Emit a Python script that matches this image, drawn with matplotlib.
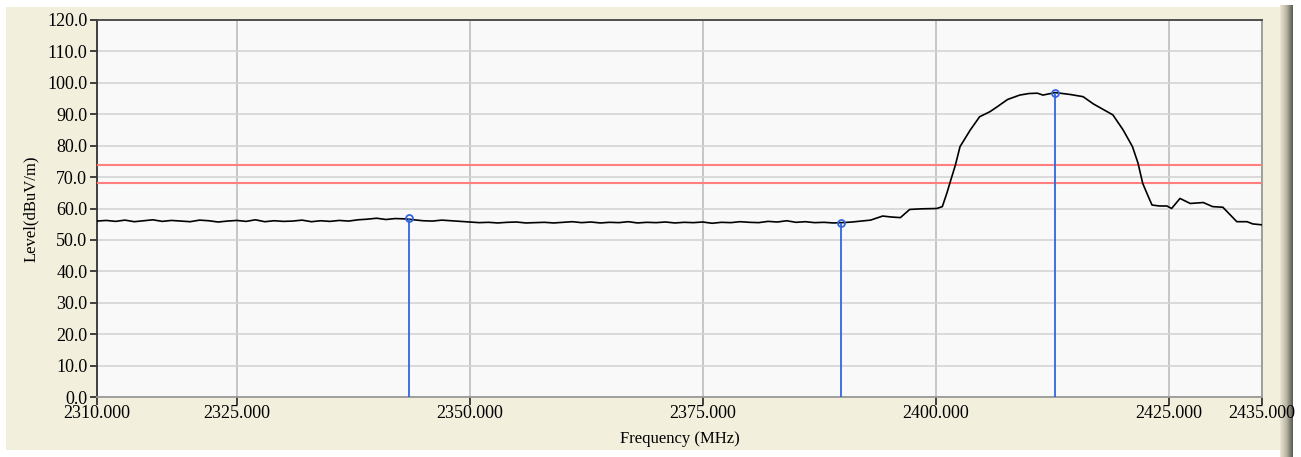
import numpy as np
import matplotlib.pyplot as plt
from matplotlib.patches import Rectangle
from matplotlib.colors import LinearSegmentedColormap

# noise floor, 1 MHz steps from 2310 to 2392
floor_freq = list(range(2310, 2393))
floor_level = [
    56.0, 56.2, 55.9, 56.3, 55.8, 56.1, 56.4, 55.9, 56.2, 56.0,
    55.8, 56.3, 56.1, 55.7, 56.0, 56.2, 55.9, 56.4, 55.8, 56.1,
    55.9, 56.0, 56.3, 55.8, 56.1, 55.9, 56.2, 56.0, 56.4, 56.6,
    56.9, 56.5, 56.8, 56.7, 56.4, 56.1, 56.0, 56.3, 56.1, 55.9,
    55.7, 55.5, 55.6, 55.4, 55.6, 55.7, 55.4, 55.5, 55.6, 55.4,
    55.6, 55.8, 55.5, 55.7, 55.4, 55.6, 55.5, 55.8, 55.4, 55.6,
    55.5, 55.7, 55.4, 55.6, 55.5, 55.7, 55.3, 55.6, 55.5, 55.8,
    55.6, 55.5, 55.9, 55.7, 56.1, 55.6, 55.8, 55.5, 55.6, 55.4,
    55.5, 55.7, 56.0,
]

# signal hump and tail
hump_freq = [2393.0, 2394.3, 2395.2, 2396.2, 2397.2, 2398.5, 2399.7, 2400.1,
             2400.7, 2401.2, 2401.5, 2402.1, 2402.6, 2403.7, 2404.7, 2405.8,
             2406.6, 2407.7, 2409.0, 2410.0, 2410.9, 2411.5, 2412.8, 2414.4,
             2415.8, 2416.9, 2418.4, 2419.0, 2420.1, 2421.1, 2421.7, 2422.2,
             2422.8, 2423.2, 2424.0, 2424.8, 2425.3, 2426.2, 2427.3, 2428.7,
             2429.7, 2430.8, 2432.3, 2433.4, 2434.0, 2435.0]
hump_level = [56.3, 57.6, 57.3, 57.1, 59.7, 59.9, 60.0, 60.0,
              60.6, 65.0, 68.0, 73.8, 79.7, 85.0, 89.2, 90.8,
              92.4, 94.7, 96.1, 96.6, 96.7, 96.1, 96.9, 96.3,
              95.6, 93.3, 90.8, 89.8, 85.0, 79.7, 74.4, 68.0,
              63.8, 61.1, 60.8, 60.8, 60.0, 63.2, 61.6, 61.9,
              60.6, 60.4, 55.8, 55.8, 55.1, 54.8]

limit_lines = [74.0, 68.0]

marker_freq = [2343.5, 2389.8, 2412.8]
marker_level = [57.0, 55.5, 96.9]

xticks = [2310, 2325, 2350, 2375, 2400, 2425, 2435]
yticks = list(range(0, 121, 10))

freq = floor_freq + hump_freq
level = floor_level + hump_level

FONT = 'Liberation Serif'

fig = plt.figure(figsize=(13.01, 4.57), dpi=100)
fig.patch.set_facecolor('white')
# beige panel
fig.patches.append(Rectangle((6 / 1301, 7 / 457), 1276 / 1301, 443 / 457,
                             transform=fig.transFigure, facecolor='#F2EFDD',
                             edgecolor='none', zorder=-10))
# right shadow bar
shade = LinearSegmentedColormap.from_list('shade', ['#EAE6D2', '#B8B5A2', '#5A5A52'])
sh = fig.add_axes([1280 / 1301, 0, 13 / 1301, 452 / 457])
sh.imshow(np.linspace(0, 1, 50)[None, :], aspect='auto', cmap=shade,
          extent=[0, 1, 0, 1])
sh.axis('off')

ax = fig.add_axes([97 / 1301, 1 - 397 / 457, 1165 / 1301, 377 / 457])
ax.set_facecolor('#F9F9F9')

ax.plot(freq, level, color='black', lw=1.2, zorder=4)
for y in limit_lines:
    ax.axhline(y, color='#FF7F7F', lw=1.5, zorder=3)
for f, l in zip(marker_freq, marker_level):
    ax.vlines(f, 0, l, color='#3366DD', lw=1.3, zorder=5)
ax.plot(marker_freq, marker_level, 'o', ms=5, mfc='none', mec='#3366DD',
        mew=1.3, zorder=6)

ax.set_xlim(2310, 2435)
ax.set_ylim(0, 120)
ax.set_xticks(xticks)
ax.set_yticks(yticks)
ax.set_xticklabels(['%.3f' % v for v in xticks], family=FONT, fontsize=13)
ax.set_yticklabels(['%.1f' % v for v in yticks], family=FONT, fontsize=13)
ax.tick_params(axis='y', length=5, width=1.2, pad=2, color='#222222')
ax.tick_params(axis='x', length=6, width=1.2, pad=0, color='#222222')

ax.grid(axis='y', color='#D4D4D4', lw=1.2, zorder=1)
ax.grid(axis='x', color='#BEBEBE', lw=1.2, zorder=1)
ax.set_axisbelow(True)

ax.spines['left'].set_color('#333333')
ax.spines['top'].set_color('#444444')
ax.spines['right'].set_color('#999999')
ax.spines['bottom'].set_color('#999999')
for s in ax.spines.values():
    s.set_linewidth(1.3)

ax.set_xlabel('Frequency (MHz)', family=FONT, fontsize=12, labelpad=6)
ax.set_ylabel('Level(dBuV/m)', family=FONT, fontsize=12, labelpad=6)

fig.savefig('out.png', dpi=100, facecolor=fig.get_facecolor())
